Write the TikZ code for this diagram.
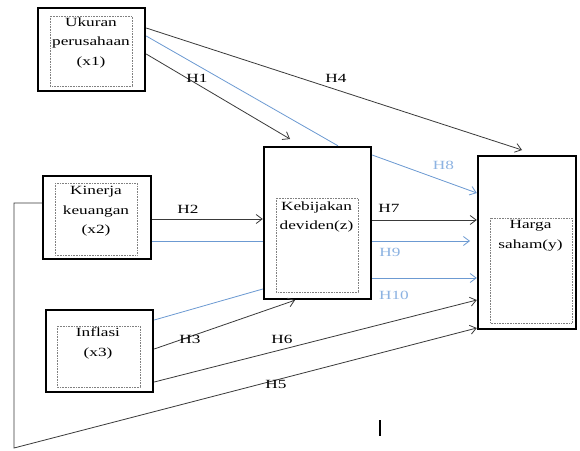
\documentclass[tikz,border=0pt]{standalone}
\usepackage{fontspec}
\setmainfont{Liberation Serif}[FakeStretch=1.38]
\usetikzlibrary{arrows.meta}
\definecolor{lineblue}{HTML}{6C9AD2}
\definecolor{lblblue}{HTML}{8DB3E2}
\definecolor{linegray}{HTML}{3A3A3A}
\begin{document}
\begin{tikzpicture}[x=1pt,y=-1pt,
  box/.style={draw=black, line width=2.4pt, rectangle, inner sep=0pt},
  innerbox/.style={draw=gray, densely dotted, line width=0.6pt},
  txt/.style={font=\fontsize{12.5}{19.5}\selectfont, align=center, inner sep=0pt},
  hlbl/.style={font=\fontsize{12.5}{15}\selectfont, inner sep=0pt},
  blk/.style={draw=linegray, line width=0.8pt},
  bl/.style={draw=lineblue, line width=0.8pt},
  arr/.style={-{Straight Barb[length=6pt,width=9pt]}}]
\fill[white] (0,0) rectangle (580,450);
\useasboundingbox (0,0) rectangle (580,450);

% boxes
\node[box, minimum width=107pt, minimum height=83pt] (x1) at (91.5,49.5) {};
\node[box, minimum width=108pt, minimum height=83pt] (x2) at (97,217.5) {};
\node[box, minimum width=107pt, minimum height=82pt] (x3) at (99.5,351) {};
\node[box, minimum width=107pt, minimum height=152pt] (z) at (317.5,223) {};
\node[box, minimum width=98pt, minimum height=173pt] (y) at (527,242.5) {};

\draw[innerbox] (50,16) rectangle (132,86);
\draw[innerbox] (55,183) rectangle (137,255);
\draw[innerbox] (57,326) rectangle (140,387);
\draw[innerbox] (276,198) rectangle (358,292);
\draw[innerbox] (490,218) rectangle (572,323);

\node[txt] (x1t) at (91,42.5) {Ukuran\\perusahaan\\(x1)};
\node[txt] (x2t) at (96,211.5) {Kinerja\\keuangan\\(x2)};
\node[txt] (x3t) at (98,343.5) {Inflasi\\(x3)};
\node[txt] (zt) at (316.5,217) {Kebijakan\\deviden(z)};
\node[txt] (yt) at (530.5,236) {Harga\\saham(y)};

% free ends
\coordinate (h1end) at (290,139);
\coordinate (h4end) at (522,150);
\coordinate (h9end) at (470,241);
\coordinate (lc1) at (14,203);
\coordinate (lc2) at (14,448);

% connectors
\draw[blk, arr] (x1.east |- 0,28) -- (h4end);
\draw[bl] (x1.east |- 0,36) -- (z.north -| 338,0);
\draw[blk, arr] (x1.east |- 0,54) -- (h1end);
\draw[bl, arr] (z.east |- 0,155) -- (y.west |- 0,193);
\draw[blk, arr] (x2.east |- 0,219) -- (z.west |- 0,219);
\draw[bl] (x2.east |- 0,241) -- (z.west |- 0,241);
\draw[blk, arr] (z.east |- 0,220) -- (y.west |- 0,220);
\draw[bl, arr] (z.east |- 0,241) -- (h9end);
\draw[bl, arr] (z.east |- 0,278) -- (y.west |- 0,278);
\draw[bl] (x3.east |- 0,320) -- (z.west |- 0,289);
\draw[blk, arr] (x3.east |- 0,349) -- (z.south -| 295,0);
\draw[blk, arr] (x3.east |- 0,382) -- (y.west |- 0,300);
\draw[blk, arr] (x2.west |- 0,203) -- (lc1) -- (lc2) -- (y.west |- 0,328);

% labels
\node[hlbl] (l1) at (197,78) {H1};
\node[hlbl] (l4) at (336,78) {H4};
\node[hlbl] (l2) at (188,209) {H2};
\node[hlbl] (l7) at (389,208) {H7};
\node[hlbl, text=lblblue] (l8) at (443.5,165) {H8};
\node[hlbl, text=lblblue] (l9) at (390,252) {H9};
\node[hlbl, text=lblblue] (l10) at (394,295) {H10};
\node[hlbl] (l3) at (190,339) {H3};
\node[hlbl] (l6) at (282,339) {H6};
\node[hlbl] (l5) at (276,384) {H5};

\draw[line width=1.6pt] (380,420) -- (380,436);
\end{tikzpicture}
\end{document}
